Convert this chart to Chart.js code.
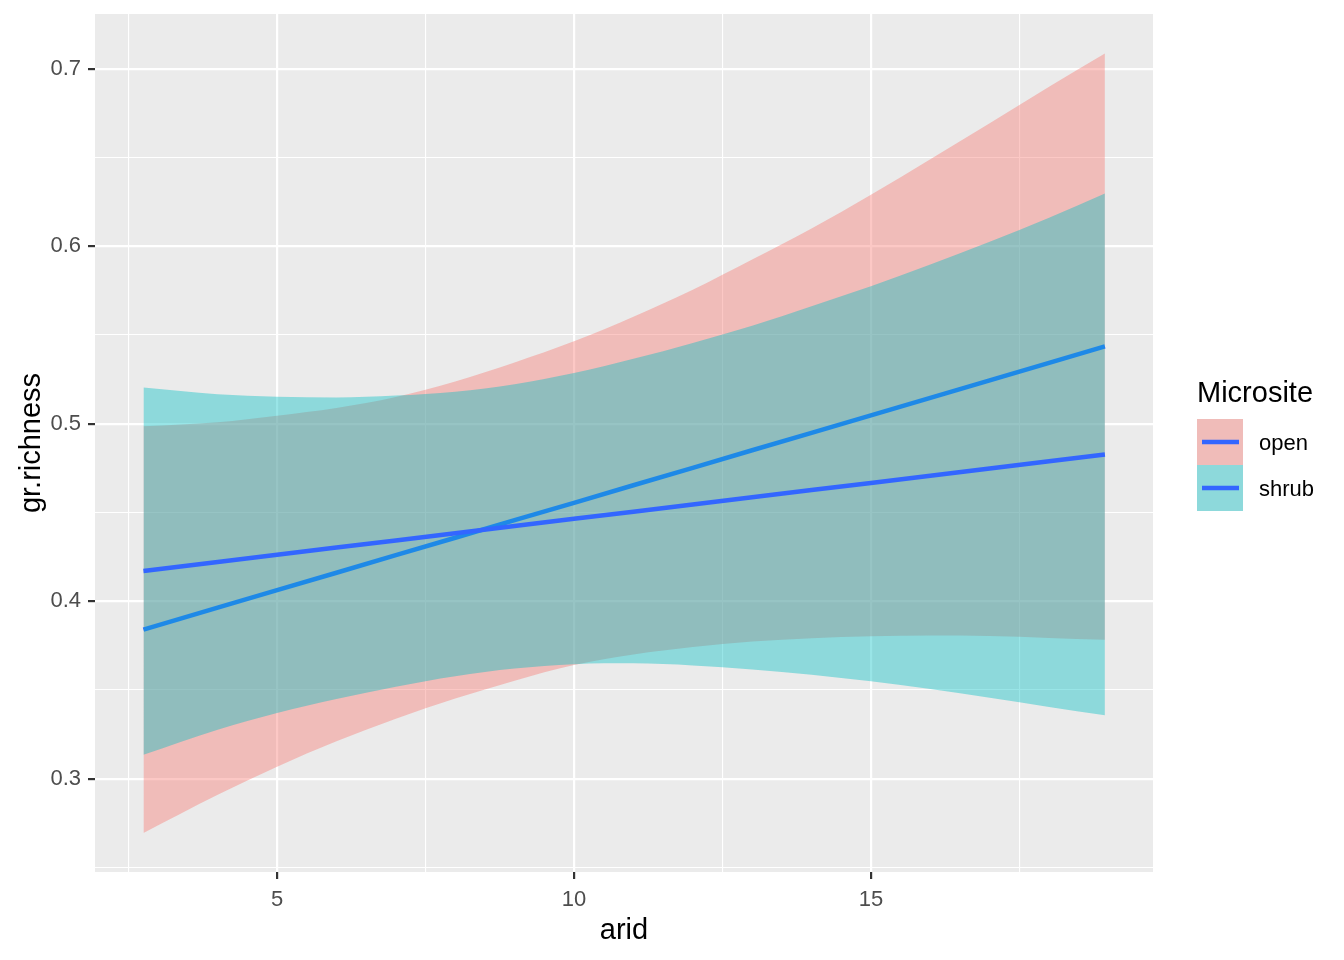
<!DOCTYPE html>
<html>
<head>
<meta charset="utf-8">
<title>gr.richness vs arid</title>
<script src="https://cdn.jsdelivr.net/npm/chart.js@4.4.1/dist/chart.umd.min.js"></script>
<style>
    html, body { margin: 0; padding: 0; background: #fff; }
    #wrap { width: 1344px; height: 960px; }
</style>
</head>
<body>
<div id="wrap"><canvas id="chart" width="1344" height="960"></canvas></div>
<script>
const arid = [2.75, 4, 5, 6, 7, 8, 9, 10, 11, 12, 13, 14, 15, 16, 17, 18, 18.94];

const openFit   = [0.3840, 0.3963, 0.4062, 0.4160, 0.4259, 0.4357, 0.4456, 0.4554, 0.4653, 0.4751, 0.4850, 0.4948, 0.5047, 0.5145, 0.5244, 0.5342, 0.5435];
const openLower = [0.2694, 0.2909, 0.3067, 0.3210, 0.3338, 0.3451, 0.3552, 0.3640, 0.3700, 0.3742, 0.3772, 0.3791, 0.3802, 0.3806, 0.3803, 0.3793, 0.3783];
const openUpper = [0.4985, 0.5008, 0.5045, 0.5088, 0.5150, 0.5238, 0.5345, 0.5464, 0.5603, 0.5755, 0.5925, 0.6100, 0.6290, 0.6490, 0.6693, 0.6898, 0.7085];

const shrubFit   = [0.4170, 0.4221, 0.4261, 0.4302, 0.4342, 0.4383, 0.4423, 0.4464, 0.4504, 0.4545, 0.4585, 0.4626, 0.4666, 0.4707, 0.4747, 0.4788, 0.4826];
const shrubLower = [0.3135, 0.3276, 0.3370, 0.3448, 0.3518, 0.3577, 0.3620, 0.3645, 0.3650, 0.3638, 0.3615, 0.3585, 0.3548, 0.3505, 0.3456, 0.3404, 0.3357];
const shrubUpper = [0.5203, 0.5166, 0.5152, 0.5148, 0.5158, 0.5180, 0.5222, 0.5285, 0.5365, 0.5455, 0.5552, 0.5662, 0.5774, 0.5896, 0.6025, 0.6160, 0.6296];

const microsites = ['open', 'shrub'];
const xTicks  = [2.5, 5, 7.5, 10, 12.5, 15, 17.5];
const xLabels = [5, 10, 15];
const yTicks  = [0.25, 0.3, 0.35, 0.4, 0.45, 0.5, 0.55, 0.6, 0.65, 0.7];
const yLabels = [0.3, 0.4, 0.5, 0.6, 0.7];

const FILLS = ['rgba(248,118,109,0.4)', 'rgba(0,191,196,0.4)'];
const LINE_COLOR = '#3366FF';
const FONT = '"Liberation Sans", Arial, sans-serif';

Chart.defaults.font.family = FONT;

function pts(ys) {
    return arid.map((x, i) => ({ x, y: ys[i] }));
}

function bound(ys, order, fill, color) {
    return {
        data: pts(ys),
        order,
        fill,
        backgroundColor: color || 'rgba(0,0,0,0)',
        borderColor: 'rgba(0,0,0,0)',
        borderWidth: 0,
        pointRadius: 0,
        cubicInterpolationMode: 'monotone'
    };
}

function fitLine(ys, order) {
    return {
        data: pts(ys),
        order,
        fill: false,
        borderColor: LINE_COLOR,
        borderWidth: 4.5,
        pointRadius: 0
    };
}

function gridFor(major) {
    return {
        color: '#ffffff',
        lineWidth: ctx => (ctx.tick && major.includes(ctx.tick.value)) ? 2.2 : 1.1,
        tickColor: ctx => (ctx.tick && major.includes(ctx.tick.value)) ? '#333333' : 'rgba(0,0,0,0)',
        tickWidth: 2.2,
        tickLength: 7,
        drawTicks: true
    };
}

// grey panel behind the grid
const panelBg = {
    id: 'panelBg',
    beforeDraw(chart) {
        const { ctx, chartArea: a } = chart;
        ctx.save();
        ctx.fillStyle = '#EBEBEB';
        ctx.fillRect(a.left, a.top, a.right - a.left, a.bottom - a.top);
        ctx.restore();
    }
};

// ggplot-style legend on the right
const sideLegend = {
    id: 'sideLegend',
    afterDraw(chart) {
        const { ctx, chartArea: a } = chart;
        const x0 = a.right + 44;
        const mid = (a.top + a.bottom) / 2;
        ctx.save();
        ctx.fillStyle = '#000';
        ctx.textAlign = 'left';
        ctx.textBaseline = 'alphabetic';
        ctx.font = '29px ' + FONT;
        ctx.fillText('Microsite', x0, mid - 41);

        microsites.forEach((name, i) => {
            const top = mid - 24 + i * 46;
            ctx.fillStyle = '#EBEBEB';
            ctx.fillRect(x0, top, 46, 46);
            ctx.fillStyle = FILLS[i];
            ctx.fillRect(x0, top, 46, 46);
            ctx.strokeStyle = LINE_COLOR;
            ctx.lineWidth = 4.5;
            ctx.beginPath();
            ctx.moveTo(x0 + 5, top + 23);
            ctx.lineTo(x0 + 42, top + 23);
            ctx.stroke();
            ctx.fillStyle = '#000';
            ctx.font = '22px ' + FONT;
            ctx.textBaseline = 'middle';
            ctx.fillText(name, x0 + 62, top + 25);
        });
        ctx.restore();
    }
};

new Chart(document.getElementById('chart'), {
    type: 'line',
    data: {
        datasets: [
            bound(openLower, 6, false),
            bound(openUpper, 5, '-1', FILLS[0]),
            fitLine(openFit, 4),
            bound(shrubLower, 3, false),
            bound(shrubUpper, 2, '-1', FILLS[1]),
            fitLine(shrubFit, 1)
        ]
    },
    options: {
        responsive: false,
        animation: false,
        devicePixelRatio: 1,
        layout: { padding: { left: 0, top: 14, right: 191, bottom: 0 } },
        plugins: {
            legend: { display: false },
            tooltip: { enabled: false }
        },
        scales: {
            x: {
                type: 'linear',
                min: 1.934,
                max: 19.75,
                afterBuildTicks: axis => { axis.ticks = xTicks.map(v => ({ value: v })); },
                afterFit: axis => {
                    axis.height = 88;
                    axis.paddingLeft = 0;
                    axis.paddingRight = 0;
                },
                border: { display: false },
                grid: gridFor(xLabels),
                ticks: {
                    autoSkip: false,
                    maxRotation: 0,
                    padding: 8,
                    color: '#4D4D4D',
                    font: { size: 22 },
                    callback: v => xLabels.includes(v) ? String(v) : ''
                },
                title: {
                    display: true,
                    text: 'arid',
                    color: '#000',
                    font: { size: 29, lineHeight: 1 },
                    padding: { top: 0, bottom: 15 }
                }
            },
            y: {
                type: 'linear',
                min: 0.2474,
                max: 0.7308,
                afterBuildTicks: axis => { axis.ticks = yTicks.map(v => ({ value: v })); },
                afterFit: axis => {
                    axis.width = 95;
                    axis.paddingTop = 0;
                    axis.paddingBottom = 0;
                },
                border: { display: false },
                grid: gridFor(yLabels),
                ticks: {
                    autoSkip: false,
                    padding: 7,
                    color: '#4D4D4D',
                    font: { size: 22 },
                    callback: v => yLabels.includes(v) ? v.toFixed(1) : ''
                },
                title: {
                    display: true,
                    text: 'gr.richness',
                    color: '#000',
                    font: { size: 29, lineHeight: 1 },
                    padding: { top: 17, bottom: 0 }
                }
            }
        }
    },
    plugins: [panelBg, sideLegend]
});
</script>
</body>
</html>
